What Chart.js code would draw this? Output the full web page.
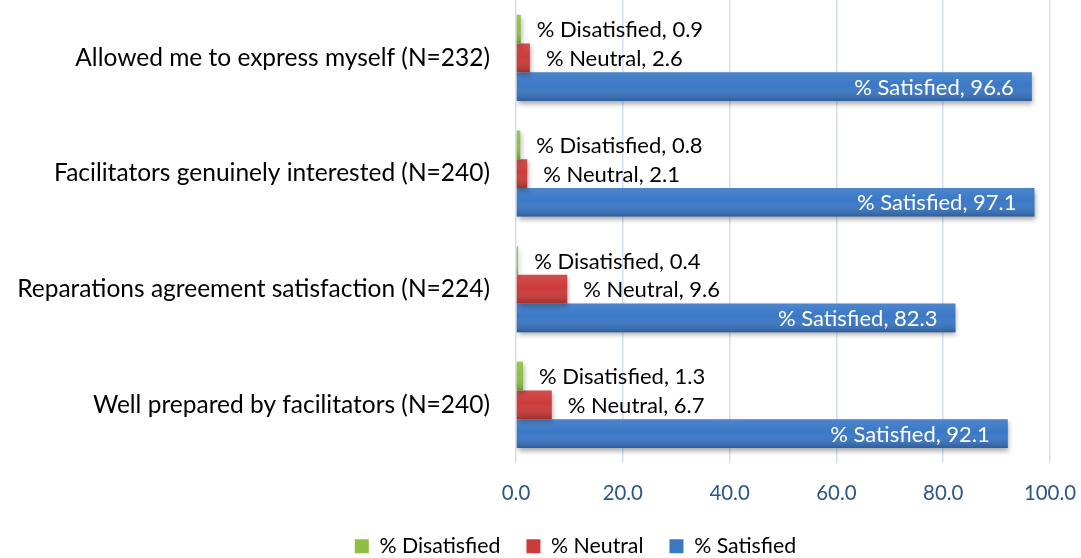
<!DOCTYPE html>
<html>
<head>
<meta charset="utf-8">
<script src="https://cdn.jsdelivr.net/npm/chart.js@4/dist/chart.umd.min.js"></script>
<style>
  html, body { margin: 0; padding: 0; background: #fff; }
  #wrap { width: 1081px; height: 558px; position: relative; }
</style>
</head>
<body>
<div id="wrap"><canvas id="chart"></canvas></div>
<script>
const categories = [
  'Allowed me to express myself (N=232)',
  'Facilitators genuinely interested (N=240)',
  'Reparations agreement satisfaction (N=224)',
  'Well prepared by facilitators (N=240)'
];
const seriesNames = ['% Disatisfied', '% Neutral', '% Satisfied'];
const disatisfied = [0.9, 0.8, 0.4, 1.3];
const neutral = [2.6, 2.1, 9.6, 6.7];
const satisfied = [96.6, 97.1, 82.3, 92.1];
const xTicks = [0, 20, 40, 60, 80, 100];

const FONT = 'Lato, "Open Sans", sans-serif';

// shadow under the bars, gradient sheen on top, value labels
const barLook = {
  id: 'barLook',
  afterLayout(chart) {
    // legend sits a little right of the canvas centre in the original
    chart.legend.left += 35;
    chart.legend.right += 35;
  },
  beforeDatasetsDraw(chart) {
    const ctx = chart.ctx;
    ctx.save();
    ctx.shadowColor = 'rgba(0,0,0,0.35)';
    ctx.shadowBlur = 5;
    ctx.shadowOffsetX = 1;
    ctx.shadowOffsetY = 3;
  },
  afterDatasetsDraw(chart) {
    const ctx = chart.ctx;
    ctx.restore();
    chart.data.datasets.forEach((ds, di) => {
      const meta = chart.getDatasetMeta(di);
      meta.data.forEach((bar, i) => {
        const top = bar.y - bar.height / 2;
        const g = ctx.createLinearGradient(0, top, 0, top + bar.height);
        g.addColorStop(0, 'rgba(255,255,255,0.10)');
        g.addColorStop(0.45, 'rgba(255,255,255,0)');
        g.addColorStop(1, 'rgba(0,0,0,0.22)');
        ctx.fillStyle = g;
        ctx.fillRect(bar.base, top, bar.x - bar.base, bar.height);

        const text = ds.label + ', ' + ds.data[i].toFixed(1);
        ctx.font = '22px ' + FONT;
        ctx.textBaseline = 'middle';
        if (di === 2) {
          ctx.fillStyle = '#ffffff';
          ctx.textAlign = 'right';
          ctx.fillText(text, bar.x - 18, bar.y + 1);
        } else {
          ctx.fillStyle = '#000000';
          ctx.textAlign = 'left';
          ctx.fillText(text, bar.x + 16, bar.y + 1);
        }
      });
    });
  }
};

new Chart(document.getElementById('chart'), {
  type: 'bar',
  data: {
    labels: categories,
    datasets: [
      { label: seriesNames[0], data: disatisfied, backgroundColor: '#8dc040' },
      { label: seriesNames[1], data: neutral, backgroundColor: '#cc3b39' },
      { label: seriesNames[2], data: satisfied, backgroundColor: '#3a78c6' }
    ]
  },
  options: {
    indexAxis: 'y',
    responsive: true,
    maintainAspectRatio: false,
    animation: false,
    layout: { padding: { left: 0, right: 0, top: 0, bottom: -9 } },
    datasets: {
      bar: { categoryPercentage: 0.745, barPercentage: 1.0 }
    },
    scales: {
      x: {
        min: 0,
        max: 100,
        afterBuildTicks(scale) {
          scale.ticks = xTicks.map(v => ({ value: v }));
        },
        afterFit(scale) {
          scale.height = 47;
          scale.paddingLeft = 0;
          scale.paddingRight = 31;
        },
        grid: { color: '#d3e0f0', lineWidth: 1.5, drawTicks: false },
        border: { display: false },
        ticks: {
          padding: 18,
          color: '#2b5689',
          font: { family: FONT, size: 20.4 },
          callback: v => Number(v).toFixed(1)
        }
      },
      y: {
        afterFit(scale) {
          scale.width = 516;
          scale.paddingTop = 0;
          scale.paddingBottom = 0;
        },
        grid: { display: false, drawTicks: false },
        border: { display: false },
        ticks: {
          padding: 26,
          color: '#000000',
          font: { family: FONT, size: 24.5 }
        }
      }
    },
    plugins: {
      legend: {
        position: 'bottom',
        labels: {
          boxWidth: 14,
          boxHeight: 14,
          padding: 26,
          color: '#000000',
          font: { family: FONT, size: 21.3 }
        }
      },
      tooltip: { enabled: false }
    }
  },
  plugins: [barLook]
});
</script>
</body>
</html>
